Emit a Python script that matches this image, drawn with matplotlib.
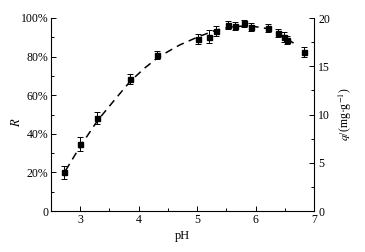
import matplotlib
matplotlib.use("Agg")
import matplotlib.pyplot as plt
from matplotlib.ticker import MultipleLocator, FuncFormatter

ph = [2.73, 3.0, 3.29, 3.85, 4.32, 5.01, 5.21, 5.33, 5.53, 5.64, 5.81, 5.93, 6.21, 6.38, 6.49, 6.53, 6.83]
R = [20.0, 34.6, 48.3, 68.4, 80.8, 89.1, 90.3, 93.3, 96.4, 95.7, 97.2, 95.5, 95.0, 92.2, 90.2, 88.6, 82.5]
R_err = [3.5, 3.5, 3.0, 2.5, 2.0, 2.5, 3.5, 2.5, 2.0, 2.0, 2.0, 2.0, 2.0, 2.0, 2.5, 2.0, 2.5]

fit_ph = [2.75, 3.0, 3.3, 3.6, 3.85, 4.1, 4.35, 4.7, 5.0, 5.3, 5.6, 5.9, 6.2, 6.45, 6.65]
fit_R = [21.0, 33.5, 47.0, 58.0, 67.0, 74.0, 80.0, 86.0, 90.0, 93.5, 95.5, 96.0, 94.5, 91.0, 87.0]

plt.rcParams['font.family'] = ['Liberation Serif', 'DejaVu Serif']
plt.rcParams['mathtext.fontset'] = 'stix'

fig = plt.figure(figsize=(3.65, 2.52), dpi=100)
ax = fig.add_axes([51/365, 1 - 211/252, (314 - 51)/365, (211 - 18)/252])

ax.plot(fit_ph, fit_R, color='black', lw=1.1, ls=(0, (5, 3.5)), zorder=2)
ax.errorbar(ph, R, yerr=R_err, fmt='s', color='black', ms=3.6, elinewidth=0.7,
            capsize=2, capthick=0.7, zorder=3)

ax.set_xlim(2.5, 7)
ax.set_ylim(0, 100)
ax.xaxis.set_major_locator(MultipleLocator(1))
ax.xaxis.set_minor_locator(MultipleLocator(0.5))
ax.yaxis.set_major_locator(MultipleLocator(20))
ax.yaxis.set_minor_locator(MultipleLocator(10))
ax.yaxis.set_major_formatter(FuncFormatter(lambda v, p: '0' if v == 0 else f'{int(v)}%'))
ax.spines['top'].set_visible(False)
ax.spines['right'].set_visible(False)
for s in ax.spines.values():
    s.set_linewidth(0.8)
ax.tick_params(which='both', direction='in', labelsize=8.5, width=0.7, pad=2)
ax.tick_params(which='major', length=3.5)
ax.tick_params(which='minor', length=2)
ax.set_xlabel('pH', fontsize=9, labelpad=3)
ax.set_ylabel('$R$', fontsize=9)
ax.yaxis.set_label_coords(-28/263, 0.46)

ax2 = ax.twinx()
ax2.set_ylim(0, 20)
ax2.yaxis.set_major_locator(MultipleLocator(5))
ax2.yaxis.set_minor_locator(MultipleLocator(2.5))
ax2.spines['top'].set_visible(False)
ax2.spines['left'].set_visible(False)
ax2.spines['bottom'].set_visible(False)
ax2.spines['right'].set_linewidth(0.8)
ax2.tick_params(which='both', direction='in', labelsize=8.5, width=0.7, pad=3)
ax2.tick_params(which='major', length=3.5)
ax2.tick_params(which='minor', length=2)
ax2.set_ylabel('$q$/(mg·g$^{-1}$)', fontsize=8.5)
ax2.yaxis.set_label_coords(1 + 23/263, 0.5)

fig.savefig('out.png', dpi=100)
